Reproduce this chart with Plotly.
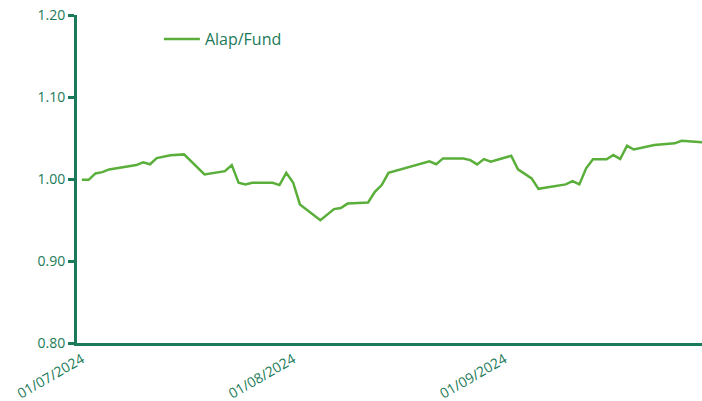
import plotly.graph_objects as go

dates = [
    "2024-07-01", "2024-07-02", "2024-07-03", "2024-07-04", "2024-07-05",
    "2024-07-09", "2024-07-10", "2024-07-11", "2024-07-12", "2024-07-14",
    "2024-07-16", "2024-07-19", "2024-07-22", "2024-07-23", "2024-07-24",
    "2024-07-25", "2024-07-26", "2024-07-29", "2024-07-30", "2024-07-31",
    "2024-08-01", "2024-08-02", "2024-08-05", "2024-08-07", "2024-08-08",
    "2024-08-09", "2024-08-12", "2024-08-13", "2024-08-14", "2024-08-15",
    "2024-08-21", "2024-08-22", "2024-08-23", "2024-08-26", "2024-08-27",
    "2024-08-28", "2024-08-29", "2024-08-30", "2024-09-02", "2024-09-03",
    "2024-09-05", "2024-09-06", "2024-09-10", "2024-09-11", "2024-09-12",
    "2024-09-13", "2024-09-14", "2024-09-16", "2024-09-17", "2024-09-18",
    "2024-09-19", "2024-09-20", "2024-09-23", "2024-09-25", "2024-09-26",
    "2024-09-27", "2024-09-30",
]
fund_values = [
    0.999, 0.999, 1.0068, 1.0084, 1.0117,
    1.0170, 1.0203, 1.0180, 1.0255, 1.0290,
    1.0300, 1.0056, 1.0096, 1.0170, 0.9954,
    0.9934, 0.9954, 0.9954, 0.9926, 1.0076,
    0.9958, 0.9690, 0.9498, 0.9633, 0.9645,
    0.9700, 0.9714, 0.9844, 0.9926, 1.0076,
    1.0215, 1.0180, 1.0251, 1.0251, 1.0230,
    1.0178, 1.0243, 1.0210, 1.0283, 1.0117,
    1.0007, 0.9880, 0.9934, 0.9974, 0.9934,
    1.0130, 1.0240, 1.0240, 1.0292, 1.0243,
    1.0405, 1.0360, 1.0414, 1.0426, 1.0435,
    1.0466, 1.0447,
]
series_name = "Alap/Fund"
x_tick_vals = ["2024-07-01", "2024-08-01", "2024-09-01"]
x_tick_text = ["01/07/2024", "01/08/2024", "01/09/2024"]
y_tick_vals = [0.80, 0.90, 1.00, 1.10, 1.20]

axis_color = "#1b7a58"
line_color = "#5aaf3a"

fig = go.Figure()
fig.add_trace(go.Scatter(
    x=dates, y=fund_values, mode="lines", name=series_name,
    line=dict(color=line_color, width=2.5),
))

fig.update_layout(
    width=702, height=401,
    margin=dict(l=77, r=0, t=15, b=58),
    paper_bgcolor="white", plot_bgcolor="white",
    showlegend=True,
    legend=dict(x=0.131, y=0.978, xanchor="left", yanchor="top",
                itemwidth=36,
                bgcolor="rgba(0,0,0,0)",
                font=dict(family="Open Sans", size=16, color=axis_color)),
    font=dict(family="Open Sans", size=13, color=axis_color),
)
fig.update_xaxes(
    type="date", automargin=False,
    range=["2024-06-30 07:00", "2024-09-30"],
    tickvals=x_tick_vals, ticktext=x_tick_text, tickangle=-30,
    showgrid=False, zeroline=False,
    showline=True, linecolor=axis_color, linewidth=3,
    ticks="", tickfont=dict(family="Open Sans", size=14, color=axis_color),
)
fig.update_yaxes(
    range=[0.80, 1.20], automargin=False,
    tickvals=y_tick_vals, tickformat=".2f",
    showgrid=False, zeroline=False,
    showline=True, linecolor=axis_color, linewidth=3,
    ticks="outside", ticklen=6, tickwidth=3, tickcolor=axis_color,
    tickfont=dict(family="Open Sans", size=14, color=axis_color),
)

fig.write_html(
    "out.html",
    config={"displayModeBar": False},
    post_script="document.body.style.margin='0';document.body.style.overflow='hidden';",
)
